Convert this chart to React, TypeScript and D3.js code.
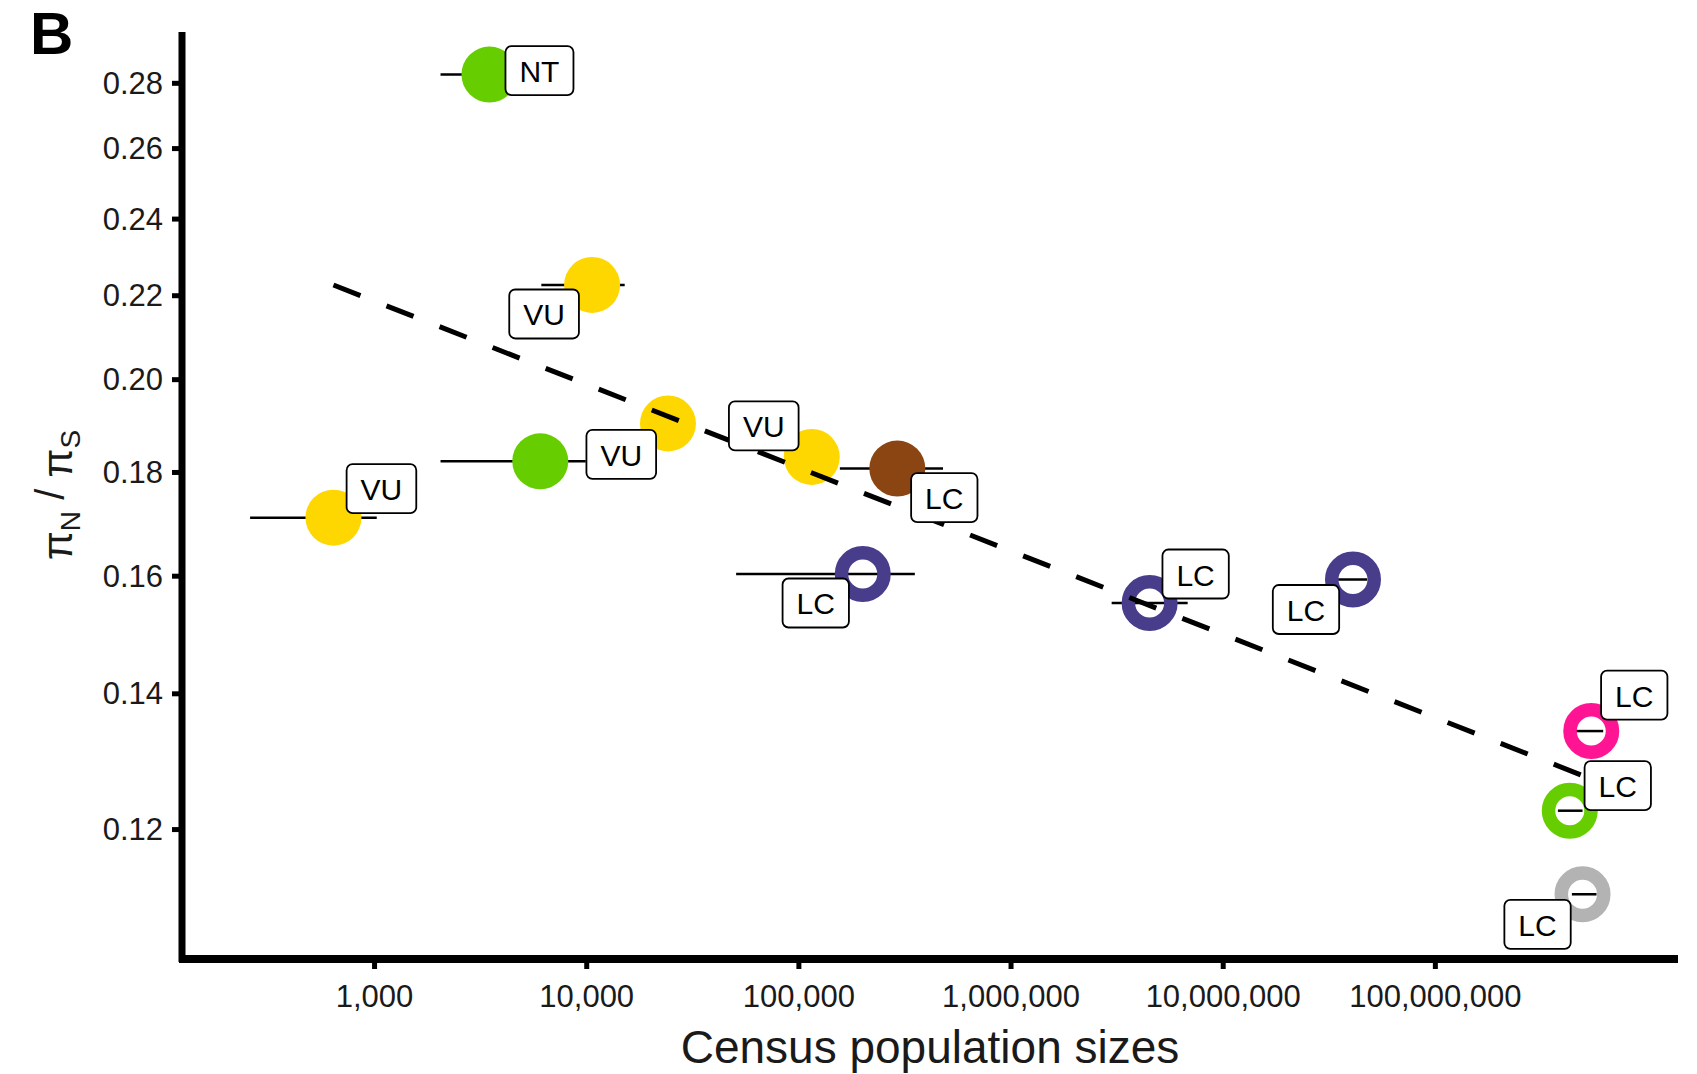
import React from 'react';
import * as d3 from 'd3';

// ---- data ----
const popSize = [3480, 10600, 24150, 6040, 640, 115000, 291000, 200000, 4.5e6, 4.09e7, 5.43e8, 4.3e8, 4.94e8];
const piRatio = [0.2828, 0.2227, 0.1903, 0.1823, 0.1710, 0.1832, 0.1808, 0.1604, 0.1552, 0.1594, 0.1342, 0.1226, 0.1115];
const popLow = [2046, 6110, 24150, 2046, 259, 115000, 156000, 50600, 2.98e6, 3.48e7, 4.6e8, 3.78e8, 4.4e8];
const popHigh = [5890, 15100, 24150, 9890, 1024, 115000, 478000, 352000, 6.8e6, 4.77e7, 6.18e8, 4.94e8, 5.75e8];
const pointColor = ['#66CD00', '#FFD700', '#FFD700', '#66CD00', '#FFD700', '#FFD700', '#8B4513', '#483D8B', '#483D8B', '#483D8B', '#FF1493', '#66CD00', '#B3B3B3'];
const pointFilled = [true, true, true, true, true, true, true, false, false, false, false, false, false];
const statusLabel = ['NT', 'VU', '', 'VU', 'VU', 'VU', 'LC', 'LC', 'LC', 'LC', 'LC', 'LC', 'LC'];
const trendX = [640, 5.43e8];
const trendY = [0.2227, 0.1271];
const xTicks = [1e3, 1e4, 1e5, 1e6, 1e7, 1e8];
const yTicks = [0.12, 0.14, 0.16, 0.18, 0.2, 0.22, 0.24, 0.26, 0.28];

// label placement offsets (repel layout, px)
const labelDx = [50, -48, 0, 81, 48, -48, 47, -47, 46, -47, 43, 48, -45];
const labelDy = [-4, 29, 0, -7, -29, -31, 29, 29, -29, 30, -36, -25, 30];

const W = 1697, H = 1074;
const FONT = '"Liberation Sans", Arial, Helvetica, sans-serif';

export default function App() {
  const x = d3.scaleLog().domain([123.7, 1.392e9]).range([182, 1678]);
  const y = d3.scaleLog().domain([0.1036, 0.2968]).range([959, 32]);
  const fmtX = d3.format(',');
  const fmtY = d3.format('.2f');
  const line = d3.line<[number, number]>().x(d => x(d[0])).y(d => y(d[1]));
  const trend: [number, number][] = trendX.map((v, i) => [v, trendY[i]]);
  const idx = d3.range(popSize.length);

  const R = 28;
  const ringW = 13.5;
  const boxH = 49;
  const padX = 14;
  const labelFs = 30;
  const charW: Record<string, number> = { L: 0.556, C: 0.722, V: 0.667, U: 0.722, N: 0.722, T: 0.611 };
  const textW = (s: string) => s.split('').reduce((a, c) => a + (charW[c] || 0.6), 0) * labelFs;

  return (
    <svg width={W} height={H} style={{ position: 'absolute', left: 0, top: 0, display: 'block', background: '#fff' }} fontFamily={FONT}>
      <rect x={0} y={0} width={W} height={H} fill="#fff" />
      {/* panel letter */}
      <text x={30} y={54} fontSize={60} fontWeight="bold" fill="#000">B</text>

      {/* y ticks */}
      {yTicks.map(t => (
        <g key={'yt' + t}>
          <line x1={172} x2={182} y1={y(t)} y2={y(t)} stroke="#000" strokeWidth={5} />
          <text x={163} y={y(t)} fontSize={31} textAnchor="end" dominantBaseline="central" fill="#1a1a1a">{fmtY(t)}</text>
        </g>
      ))}
      {/* x ticks */}
      {xTicks.map(t => (
        <g key={'xt' + t}>
          <line x1={x(t)} x2={x(t)} y1={959} y2={969} stroke="#000" strokeWidth={5} />
          <text x={x(t)} y={1007} fontSize={31} textAnchor="middle" fill="#1a1a1a">{fmtX(t)}</text>
        </g>
      ))}

      {/* axes */}
      <line x1={182} x2={182} y1={32} y2={962} stroke="#000" strokeWidth={7} />
      <line x1={179} x2={1678} y1={959} y2={959} stroke="#000" strokeWidth={8} />

      {/* axis titles */}
      <text x={(182 + 1678) / 2} y={1063} fontSize={46} textAnchor="middle" fill="#1a1a1a">Census population sizes</text>
      <text transform="translate(72,495) rotate(-90)" textAnchor="middle" fontSize={42} fill="#1a1a1a">
        <tspan>π</tspan>
        <tspan fontSize={28} dy={8}>N</tspan>
        <tspan dy={-16} fontSize={40}> / </tspan>
        <tspan dy={8}>π</tspan>
        <tspan fontSize={28} dy={8}>S</tspan>
      </text>

      {/* error bars */}
      {idx.map(i => (
        popHigh[i] > popLow[i] ? (
          <line key={'eb' + i} x1={x(popLow[i])} x2={x(popHigh[i])} y1={y(piRatio[i])} y2={y(piRatio[i])} stroke="#000" strokeWidth={2.5} />
        ) : null
      ))}

      {/* points */}
      {idx.map(i => pointFilled[i] ? (
        <circle key={'p' + i} cx={x(popSize[i])} cy={y(piRatio[i])} r={R} fill={pointColor[i]} />
      ) : (
        <circle key={'p' + i} cx={x(popSize[i])} cy={y(piRatio[i])} r={R - ringW / 2} fill="none" stroke={pointColor[i]} strokeWidth={ringW} />
      ))}

      {/* trend line */}
      <path d={line(trend) || ''} fill="none" stroke="#000" strokeWidth={5} strokeDasharray="29 28" />

      {/* labels */}
      {idx.filter(i => statusLabel[i] !== '').map(i => {
        const cx = x(popSize[i]) + labelDx[i];
        const cy = y(piRatio[i]) + labelDy[i];
        const w = textW(statusLabel[i]) + padX * 2;
        return (
          <g key={'lb' + i}>
            <rect x={cx - w / 2} y={cy - boxH / 2} width={w} height={boxH} rx={6} ry={6} fill="#fff" stroke="#000" strokeWidth={1.8} />
            <text x={cx} y={cy + 1} fontSize={labelFs} textAnchor="middle" dominantBaseline="central" fill="#000">{statusLabel[i]}</text>
          </g>
        );
      })}
    </svg>
  );
}
